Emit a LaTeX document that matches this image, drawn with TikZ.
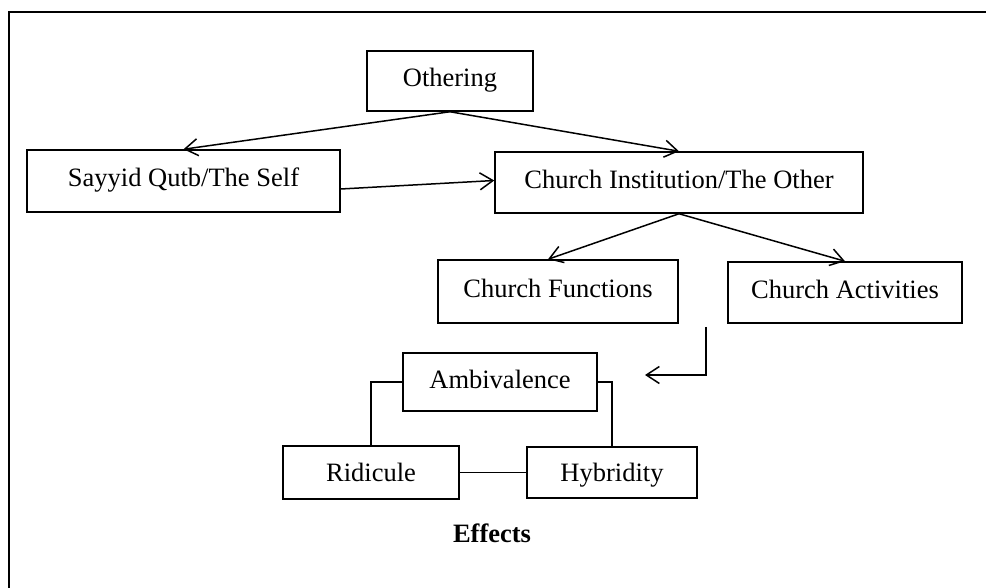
\documentclass[tikz,border=0pt]{standalone}
\usepackage{fontspec}
\setmainfont{Liberation Serif}
\usetikzlibrary{arrows.meta,calc}
\begin{document}
\begin{tikzpicture}[x=1pt,y=-1pt,
  box/.style={draw,line width=1.5pt,inner sep=0pt,align=center,text height=19pt,text depth=7pt,font=\fontsize{26.5}{30}\selectfont},
  lowbox/.style={box,text height=22pt,text depth=4pt},
  conn/.style={line width=1.5pt},
  arr/.style={conn,-{Straight Barb[length=13pt,width=17pt,line width=1.5pt]}},
  lbl/.style={inner sep=0pt,font=\fontsize{26.5}{30}\selectfont\bfseries}]
\useasboundingbox (0,0) rectangle (986,588);
\draw[line width=2.6pt] (986,12) -- (9,12) -- (9,588);
\node[box,minimum width=166pt,minimum height=60pt] (othering) at (450,81) {Othering};
\node[box,minimum width=313pt,minimum height=62pt] (sayyid) at (183.5,181) {Sayyid Qutb/The Self};
\node[box,minimum width=368pt,minimum height=61pt] (church) at (679,182.5) {Church Institution/The Other};
\node[box,minimum width=240pt,minimum height=63pt] (functions) at (558,291.5) {Church Functions};
\node[box,minimum width=234pt,minimum height=61pt] (activities) at (845,292.5) {Church Activities};
\node[box,minimum width=194pt,minimum height=58pt] (ambivalence) at (500,382) {Ambivalence};
\node[lowbox,minimum width=176pt,minimum height=53pt] (ridicule) at (371,472.5) {Ridicule};
\node[lowbox,minimum width=170pt,minimum height=51pt] (hybridity) at (612,472.5) {Hybridity};
\node[lbl] (effects) at (492,533) {Effects};
\coordinate (elb) at (706,327);
\coordinate (elbtip) at (645,375);
\draw[arr] (othering.south) -- (sayyid.north);
\draw[arr] (othering.south) -- (church.north);
\draw[arr] ($(sayyid.east)+(0,8)$) -- ($(church.west)+(0,-2)$);
\draw[arr] (church.south) -- ($(functions.north)+(-10,0)$);
\draw[arr] (church.south) -- (activities.north);
\draw[arr] (elb) |- (elbtip);
\draw[conn] (ambivalence.west) -| (ridicule.north);
\draw[conn] (ambivalence.east) -| (hybridity.north);
\draw[conn] (ridicule.east) -- (hybridity.west);
\end{tikzpicture}
\end{document}
